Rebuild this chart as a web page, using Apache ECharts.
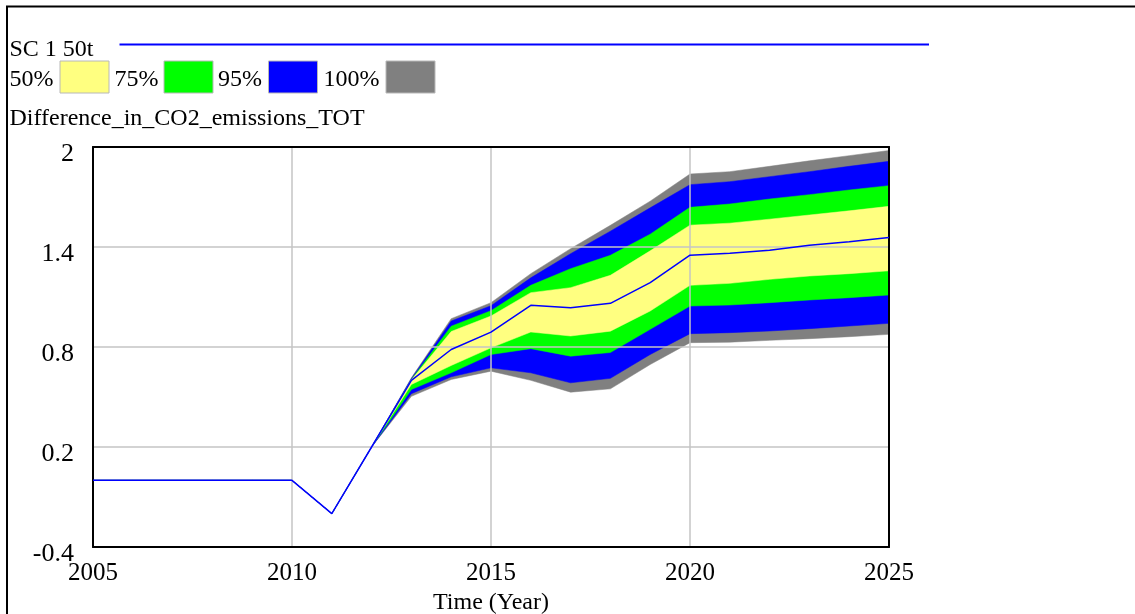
<!DOCTYPE html>
<html>
<head>
<meta charset="utf-8">
<title>Difference_in_CO2_emissions_TOT</title>
<script src="https://cdn.jsdelivr.net/npm/echarts@6/dist/echarts.min.js"></script>
<style>
  html, body { margin: 0; padding: 0; background: #ffffff; }
  #chart { width: 1135px; height: 614px; }
</style>
</head>
<body>
<div id="chart"></div>
<script>
// Simulation years
const years = [2005, 2006, 2007, 2008, 2009, 2010, 2011, 2012, 2013, 2014, 2015,
               2016, 2017, 2018, 2019, 2020, 2021, 2022, 2023, 2024, 2025];

// Base run "SC 1 50t"
const median = [0, 0, 0, 0, 0, 0, -0.2, 0.2, 0.60, 0.785, 0.889,
                1.05, 1.036, 1.062, 1.186, 1.351, 1.363, 1.381, 1.411, 1.431, 1.457];

// Sensitivity envelope bounds (lower / upper edge of each confidence band)
const lower100 = [0, 0, 0, 0, 0, 0, -0.2, 0.2, 0.504, 0.605, 0.655,
                  0.60, 0.529, 0.549, 0.695, 0.826, 0.829, 0.840, 0.850, 0.862, 0.876];
const lower95  = [0, 0, 0, 0, 0, 0, -0.2, 0.2, 0.52, 0.621, 0.675,
                  0.645, 0.585, 0.612, 0.755, 0.88, 0.886, 0.896, 0.91, 0.926, 0.942];
const lower75  = [0, 0, 0, 0, 0, 0, -0.2, 0.2, 0.545, 0.645, 0.755,
                  0.79, 0.745, 0.767, 0.906, 1.046, 1.052, 1.066, 1.082, 1.096, 1.112];
const lower50  = [0, 0, 0, 0, 0, 0, -0.2, 0.2, 0.575, 0.689, 0.795,
                  0.89, 0.866, 0.895, 1.016, 1.17, 1.182, 1.206, 1.226, 1.24, 1.257];
const upper50  = [0, 0, 0, 0, 0, 0, -0.2, 0.2, 0.603, 0.893, 0.986,
                  1.126, 1.156, 1.23, 1.377, 1.531, 1.543, 1.567, 1.592, 1.617, 1.644];
const upper75  = [0, 0, 0, 0, 0, 0, -0.2, 0.2, 0.605, 0.925, 1.018,
                  1.17, 1.27, 1.35, 1.477, 1.638, 1.658, 1.688, 1.714, 1.742, 1.768];
const upper95  = [0, 0, 0, 0, 0, 0, -0.2, 0.2, 0.61, 0.956, 1.048,
                  1.215, 1.36, 1.495, 1.635, 1.774, 1.792, 1.822, 1.852, 1.884, 1.914];
const upper100 = [0, 0, 0, 0, 0, 0, -0.2, 0.2, 0.615, 0.97, 1.066,
                  1.24, 1.39, 1.53, 1.675, 1.838, 1.852, 1.884, 1.917, 1.948, 1.979];

// Axis ticks
const xTicks = [2005, 2010, 2015, 2020, 2025];
const yTicks = [-0.4, 0.2, 0.8, 1.4, 2];

// Legend entries
const runName = 'SC 1 50t';
const bandLabels = ['50%', '75%', '95%', '100%'];
const variableName = 'Difference_in_CO2_emissions_TOT';
const axisTitle = 'Time (Year)';

const COLORS = {
  '50%': '#ffff80',
  '75%': '#00ff00',
  '95%': '#0000ff',
  '100%': '#808080',
  run: '#0000ff'
};
const FONT = '"Liberation Serif", "Times New Roman", serif';

// Nested envelopes, widest first, so each narrower band is painted over the wider one
const envelopes = [
  { band: '100%', lo: lower100, hi: upper100 },
  { band: '95%',  lo: lower95,  hi: upper95 },
  { band: '75%',  lo: lower75,  hi: upper75 },
  { band: '50%',  lo: lower50,  hi: upper50 }
];

const series = [{
  name: 'envelopes',
  type: 'custom',
  coordinateSystem: 'cartesian2d',
  silent: true,
  clip: true,
  z: 2,
  data: envelopes.map(e => [years[0], e.lo[0]]),
  encode: { x: 0, y: 1 },
  renderItem: function (params, api) {
    const e = envelopes[params.dataIndex];
    const top = years.map((y, i) => api.coord([y, e.hi[i]]));
    const bottom = years.map((y, i) => api.coord([y, e.lo[i]])).reverse();
    return {
      type: 'polygon',
      shape: { points: top.concat(bottom) },
      style: { fill: COLORS[e.band], stroke: COLORS[e.band], lineWidth: 0.5 }
    };
  }
}, {
  name: runName,
  type: 'line',
  data: years.map((y, i) => [y, median[i]]),
  symbol: 'none',
  silent: true,
  lineStyle: { color: COLORS.run, width: 1.5 },
  z: 20
}];

// Legend block drawn above the plot
const graphic = [];
graphic.push({
  type: 'rect', silent: true, z: 0,
  shape: { x: 7, y: 6.5, width: 1200, height: 700 },
  style: { fill: 'none', stroke: '#000', lineWidth: 2 }
});
graphic.push({
  type: 'text', x: 9.5, y: 49.6, silent: true,
  style: { text: runName, font: '24px ' + FONT, fill: '#000', verticalAlign: 'middle' }
});
graphic.push({
  type: 'line', silent: true,
  shape: { x1: 119.5, y1: 44.5, x2: 929, y2: 44.5 },
  style: { stroke: COLORS.run, lineWidth: 1.8 }
});
const legendTextX = [9.5, 114.5, 218, 323.5];
const legendSwatchX = [60, 164, 268.5, 386];
bandLabels.forEach((lab, i) => {
  graphic.push({
    type: 'text', x: legendTextX[i], y: 80.2, silent: true,
    style: { text: lab, font: '24px ' + FONT, fill: '#000', verticalAlign: 'middle' }
  });
  graphic.push({
    type: 'rect', silent: true,
    shape: { x: legendSwatchX[i], y: 61, width: 49, height: 32 },
    style: { fill: COLORS[lab], stroke: '#b8b8b8', lineWidth: 1 }
  });
});
graphic.push({
  type: 'text', x: 9.5, y: 118.9, silent: true,
  style: { text: variableName, font: '24px ' + FONT, fill: '#000', verticalAlign: 'middle' }
});

const axisLineStyle = { color: '#000', width: 2 };
const gridLineStyle = { color: '#c4c4c4', width: 1.5 };

const option = {
  animation: false,
  backgroundColor: '#ffffff',
  grid: {
    left: 93, top: 147, width: 796, height: 400,
    containLabel: false, outerBoundsMode: 'none'
  },
  xAxis: [{
    type: 'value',
    position: 'bottom',
    min: xTicks[0],
    max: xTicks[xTicks.length - 1],
    interval: xTicks[1] - xTicks[0],
    z: 10,
    axisLine: { show: true, onZero: false, lineStyle: axisLineStyle },
    axisTick: { show: false },
    splitLine: { show: true, lineStyle: gridLineStyle },
    axisLabel: {
      show: true, margin: 14, color: '#000', fontSize: 25, fontFamily: FONT,
      verticalAlign: 'top',
      formatter: v => String(Math.round(v))
    },
    name: axisTitle,
    nameLocation: 'middle',
    nameGap: 39,
    nameTextStyle: { color: '#000', fontSize: 24, fontFamily: FONT, verticalAlign: 'top' }
  }, {
    type: 'value',
    position: 'top',
    min: xTicks[0],
    max: xTicks[xTicks.length - 1],
    interval: xTicks[1] - xTicks[0],
    z: 10,
    axisLine: { show: true, onZero: false, lineStyle: axisLineStyle },
    axisTick: { show: false },
    splitLine: { show: false },
    axisLabel: { show: false }
  }],
  yAxis: [{
    type: 'value',
    position: 'left',
    min: yTicks[0],
    max: yTicks[yTicks.length - 1],
    interval: yTicks[1] - yTicks[0],
    z: 10,
    axisLine: { show: true, onZero: false, lineStyle: axisLineStyle },
    axisTick: { show: false },
    splitLine: { show: true, lineStyle: gridLineStyle },
    axisLabel: {
      show: true, margin: 19, color: '#000', fontSize: 26, fontFamily: FONT,
      verticalAlign: 'top', lineHeight: 14,
      formatter: v => String(+(+v).toFixed(1))
    }
  }, {
    type: 'value',
    position: 'right',
    min: yTicks[0],
    max: yTicks[yTicks.length - 1],
    interval: yTicks[1] - yTicks[0],
    z: 10,
    axisLine: { show: true, onZero: false, lineStyle: axisLineStyle },
    axisTick: { show: false },
    splitLine: { show: false },
    axisLabel: { show: false }
  }],
  series: series,
  graphic: graphic
};

const chart = echarts.init(document.getElementById('chart'), null, { renderer: 'canvas' });
chart.setOption(option);
</script>
</body>
</html>
